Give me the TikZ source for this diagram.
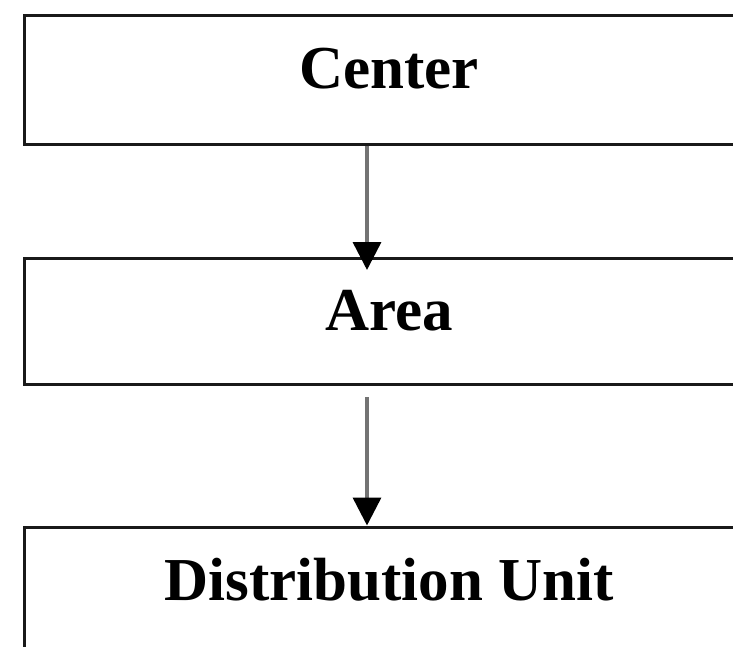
\documentclass[tikz,border=0pt]{standalone}
\usepackage{fontspec}
\setmainfont{Liberation Serif}
\usetikzlibrary{arrows.meta}

\tikzset{
  level/.style={draw=black!90, line width=3pt, rectangle,
    minimum width=730pt, minimum height=128pt,
    font=\fontsize{61}{70}\selectfont\bfseries,
    text height=40pt, text depth=22pt},
  down/.style={draw=black!55, line width=3.5pt,
    -{Triangle[width=28pt,length=28pt,color=black]}}
}

\begin{document}
\begin{tikzpicture}[x=1pt, y=-1pt]
    % frame of the picture, boxes run past the right and bottom edge
    \useasboundingbox (0,0) rectangle (733,646);
    \clip (0,0) rectangle (733,646);

    % the three levels
    \node[level, minimum height=129pt] (center) at (389,79.5) {Center};
    \node[level, minimum height=126pt] (area) at (389,321) {Area};
    \node[level] (unit) at (389,591) {Distribution Unit};

    % free ends of the arrows
    \coordinate (areatop) at (367,270);
    \coordinate (areabelow) at (367,397);

    \draw[down] (center.south -| areatop) -- (areatop);
    \draw[down] (areabelow) -- (unit.north -| areabelow);
  \end{tikzpicture}
\end{document}
